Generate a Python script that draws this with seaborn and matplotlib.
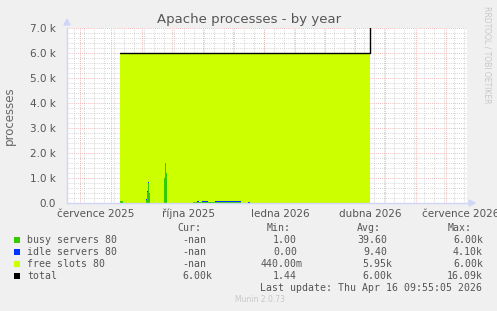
import matplotlib
matplotlib.use("Agg")
import matplotlib.pyplot as plt
import seaborn as sns
import pandas as pd
import numpy as np

# ---- data (x = days since 1 July 2025) ----
days  = [24, 27, 50, 51, 52, 53, 54, 68, 69, 70, 71, 97, 101, 103, 106, 112, 119, 133, 143, 145, 152, 154, 274]
busy  = [80, 10, 120, 450, 800, 400, 10, 1000, 1600, 1200, 10, 40, 40, 40, 50, 50, 60, 60, 50, 10, 10, 10, 10]
idle  = [20, 10, 30, 40, 40, 20, 10, 10, 10, 10, 10, 10, 40, 10, 40, 10, 40, 15, 40, 10, 40, 10, 10]
free  = [5900, 5980, 5850, 5510, 5160, 5580, 5980, 4990, 4390, 4790, 5980, 5950, 5920, 5950, 5910, 5940, 5900, 5925, 5910, 5980, 5950, 5980, 5980]
total = [6000, 6000, 6000, 6000, 6000, 6000, 6000, 6000, 6000, 6000, 6000, 6000, 6000, 6000, 6000, 6000, 6000, 6000, 6000, 6000, 6000, 6000, 16090]

tick_days   = [0, 92, 184, 274, 365]
tick_labels = ["července 2025", "října 2025", "ledna 2026", "dubna 2026", "července 2026"]
ytick_vals  = [0, 1000, 2000, 3000, 4000, 5000, 6000, 7000]
ytick_labels = ["0.0", "1.0 k", "2.0 k", "3.0 k", "4.0 k", "5.0 k", "6.0 k", "7.0 k"]

legend_names = ["busy servers 80", "idle servers 80", "free slots 80", "total"]
legend_colors = ["#33CC00", "#0033FF", "#CCFF00", "#000000"]
cur_vals = ["-nan", "-nan", "-nan", "6.00k"]
min_vals = ["1.00", "0.00", "440.00m", "1.44"]
avg_vals = ["39.60", "9.40", "5.95k", "6.00k"]
max_vals = ["6.00k", "4.10k", "6.00k", "16.09k"]

df = pd.DataFrame({"day": days, "busy": busy, "idle": idle, "free": free, "total": total})

sns.set_style("white")
plt.rcParams["font.family"] = ["DejaVu Sans"]

W, H = 497, 311
fig = plt.figure(figsize=(W / 100, H / 100), dpi=100, facecolor="#F0F0F0")
L, R, T, B = 67, 467, 28, 203
ax = fig.add_axes([L / W, 1 - B / H, (R - L) / W, (B - T) / H])
ax.set_facecolor("#FFFFFF")

XMIN, XMAX = -29, 371
ax.set_xlim(XMIN, XMAX)
ax.set_ylim(0, 7000)

# grid
for y in range(200, 7000, 200):
    if y % 1000:
        ax.axhline(y, color="#C8C8C8", lw=0.6, ls=(0, (1, 1.5)), zorder=0)
for y in range(1000, 7001, 1000):
    ax.axhline(y, color="#F0A0A0", lw=0.6, ls=(0, (1, 1.5)), zorder=0)
for d in range(-22, 371, 10):
    ax.axvline(d, color="#C8C8C8", lw=0.6, ls=(0, (1, 1.5)), zorder=0)
for d in [-16, 15, 46, 76, 107, 137, 168, 199, 229, 259, 289, 320, 350]:
    ax.axvline(d, color="#F0A0A0", lw=0.6, ls=(0, (1, 1.5)), zorder=0)

x = df["day"].values
b = df["busy"].values
i = df["idle"].values
f = df["free"].values
ax.fill_between(x, 0, b, step="post", color="#33CC00", lw=0, zorder=2)
ax.fill_between(x, b, b + i, step="post", color="#0033FF", lw=0, zorder=2)
ax.fill_between(x[:-1], (b + i)[:-1], (b + i + f)[:-1], step="post", color="#CCFF00", lw=0, zorder=2)
ax.fill_between(x[-2:], (b + i)[-2], (b + i + f)[-2], step="post", color="#CCFF00", lw=0, zorder=2)
sns.lineplot(data=df, x="day", y="total", drawstyle="steps-post", color="#000000", lw=1.0, ax=ax, zorder=3)

ax.set_xlabel("")
ax.set_ylabel("processes", color="#666666", fontsize=8.5)
ax.yaxis.set_label_coords((16 - L) / (R - L), 0.5)

ax.set_xticks(tick_days)
ax.set_xticklabels(tick_labels)
ax.set_yticks(ytick_vals)
ax.set_yticklabels(ytick_labels)
ax.tick_params(axis="both", length=0, colors="#555555", labelsize=7.5)
ax.tick_params(axis="y", pad=8)
ax.tick_params(axis="x", pad=4)

for s in ["top", "right"]:
    ax.spines[s].set_visible(False)
for s in ["left", "bottom"]:
    ax.spines[s].set_color("#CFD6F8")
    ax.spines[s].set_linewidth(1.0)

# arrows
fig.patches.append(plt.Polygon([[(L - 3) / W, 1 - (T - 3) / H], [(L + 3) / W, 1 - (T - 3) / H], [L / W, 1 - (T - 9) / H]],
                               closed=True, transform=fig.transFigure, color="#CFD6F8", zorder=5))
fig.patches.append(plt.Polygon([[(R + 2) / W, 1 - (B - 3) / H], [(R + 2) / W, 1 - (B + 3) / H], [(R + 8) / W, 1 - B / H]],
                               closed=True, transform=fig.transFigure, color="#CFD6F8", zorder=5))

def ftext(px, py, s, **kw):
    fig.text(px / W, 1 - py / H, s, **kw)

ftext(249, 19, "Apache processes - by year", ha="center", va="center", fontsize=9.5, color="#555555")
ftext(487, 6, "RRDTOOL / TOBI OETIKER", ha="center", va="top", rotation=270, fontsize=5.5, color="#C8C8C8")

mono = dict(family="DejaVu Sans Mono", fontsize=7.1, color="#555555", va="center")
ftext(177, 228, "Cur:", ha="left", **mono)
ftext(267, 228, "Min:", ha="left", **mono)
ftext(357, 228, "Avg:", ha="left", **mono)
ftext(448, 228, "Max:", ha="left", **mono)
rows_y = [240, 252, 264, 276]
for k in range(4):
    yy = rows_y[k]
    fig.patches.append(plt.Rectangle(((14) / W, 1 - (yy + 3) / H), 6 / W, 6 / H, transform=fig.transFigure,
                                     facecolor=legend_colors[k], edgecolor="none", lw=0))
    ftext(27, yy, legend_names[k], ha="left", **mono)
    ftext(206 if cur_vals[k] == "-nan" else 212, yy, cur_vals[k], ha="right", **mono)
    ftext(297 if not min_vals[k].endswith("m") else 303, yy, min_vals[k], ha="right", **mono)
    ftext(387 if not avg_vals[k].endswith("k") else 392, yy, avg_vals[k], ha="right", **mono)
    ftext(483, yy, max_vals[k], ha="right", **mono)
ftext(482, 288, "Last update: Thu Apr 16 09:55:05 2026", ha="right", **mono)
ftext(260, 300, "Munin 2.0.73", ha="center", va="center", fontsize=5.5, color="#C8C8C8")

fig.savefig("out.png", dpi=100, facecolor="#F0F0F0")
